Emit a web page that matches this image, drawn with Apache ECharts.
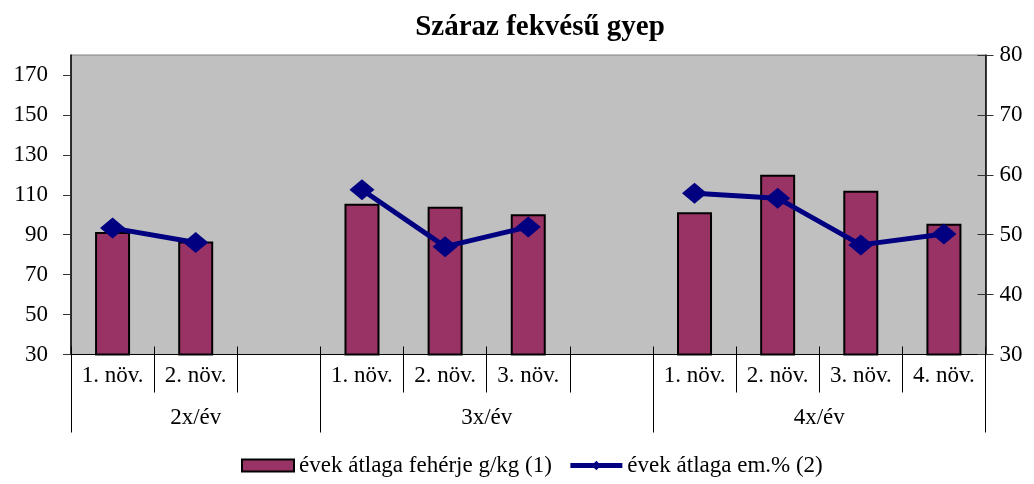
<!DOCTYPE html>
<html>
<head>
<meta charset="utf-8">
<script src="https://cdn.jsdelivr.net/npm/echarts@6.0.0/dist/echarts.min.js"></script>
<style>
html,body{margin:0;padding:0;background:#fff;}
#chart{width:1034px;height:484px;}
</style>
</head>
<body>
<div id="chart"></div>
<script>
// ---- data ----
const titleText = 'Száraz fekvésű gyep';
const categories = ['1. növ.', '2. növ.', '', '1. növ.', '2. növ.', '3. növ.', '', '1. növ.', '2. növ.', '3. növ.', '4. növ.'];
const groups = ['2x/év', '3x/év', '4x/év'];
const groupSlots = [3, 4, 4];
const barName = 'évek átlaga fehérje g/kg (1)';
const lineName = 'évek átlaga em.% (2)';
const barValues = [91.3, 86.6, null, 105.5, 104, 100.3, null, 101.3, 120, 112, 95.5];
const lineValues = [51.1, 48.7, null, 57.5, 48.0, 51.3, null, 56.9, 56.1, 48.3, 50.1];
const leftTicks = [30, 50, 70, 90, 110, 130, 150, 170];
const rightTicks = [30, 40, 50, 60, 70, 80];

// group boundaries and centres (in slot units)
const groupBounds = [0];
const groupCenters = [];
groupSlots.forEach(function (n) {
  const start = groupBounds[groupBounds.length - 1];
  groupCenters.push(start + n / 2);
  groupBounds.push(start + n);
});
const totalSlots = groupBounds[groupBounds.length - 1];

const FONT = "'Liberation Serif', 'Times New Roman', serif";
const chart = echarts.init(document.getElementById('chart'), null, {renderer: 'canvas'});

chart.setOption({
  animation: false,
  backgroundColor: '#ffffff',
  title: {
    text: titleText,
    left: 535,
    top: 8,
    textAlign: 'center',
    textStyle: {fontFamily: FONT, fontSize: 29, fontWeight: 'bold', color: '#000'}
  },
  grid: {
    left: 71, right: 48.5, top: 55, bottom: 129.5,
    show: true, backgroundColor: '#c0c0c0', borderColor: '#808080', borderWidth: 1
  },
  legend: {
    bottom: 2,
    left: 236,
    itemGap: 16,
    itemWidth: 52,
    itemHeight: 12,
    lineStyle: {width: 5},
    textStyle: {fontFamily: FONT, fontSize: 23, color: '#000'},
    data: [{name: barName, icon: 'rect'}, {name: lineName}]
  },
  xAxis: [
    {
      type: 'category', data: categories, boundaryGap: true, position: 'bottom',
      axisLine: {show: true, lineStyle: {color: '#000', width: 1}},
      axisTick: {show: true, interval: 0, inside: false, length: 38, lineStyle: {color: '#000', width: 1}},
      axisLabel: {interval: 0, margin: 10, fontFamily: FONT, fontSize: 23, color: '#000'},
      splitLine: {show: false}
    },
    {
      type: 'category', data: categories, boundaryGap: true, position: 'bottom',
      axisLine: {show: false},
      axisTick: {show: true, interval: 0, inside: true, length: 8, lineStyle: {color: '#000', width: 1}},
      axisLabel: {show: false},
      splitLine: {show: false}
    },
    {
      type: 'value', min: 0, max: totalSlots, position: 'bottom',
      axisLine: {show: false},
      axisTick: {show: true, inside: false, length: 78, customValues: groupBounds, lineStyle: {color: '#000', width: 1}},
      axisLabel: {
        show: true, margin: 52, customValues: groupCenters,
        fontFamily: FONT, fontSize: 23, color: '#000',
        formatter: function (v) {
          const i = groupCenters.indexOf(v);
          return i >= 0 ? groups[i] : '';
        }
      },
      splitLine: {show: false}
    }
  ],
  yAxis: [
    {
      type: 'value', position: 'left', min: 30, max: 180,
      axisLine: {show: true, lineStyle: {color: '#000', width: 1.5}},
      axisTick: {show: true, inside: false, length: 8, customValues: leftTicks, lineStyle: {color: '#333'}},
      axisLabel: {customValues: leftTicks, margin: 23, fontFamily: FONT, fontSize: 23, color: '#000'},
      splitLine: {show: false}
    },
    {
      type: 'value', position: 'right', min: 30, max: 80,
      axisLine: {show: true, lineStyle: {color: '#000', width: 1.5}},
      axisTick: {show: true, inside: false, length: 8, customValues: rightTicks, lineStyle: {color: '#333'}},
      axisLabel: {customValues: rightTicks, margin: 14, fontFamily: FONT, fontSize: 23, color: '#000'},
      splitLine: {show: false}
    },
    {
      type: 'value', position: 'right', min: 30, max: 80,
      axisLine: {show: false},
      axisTick: {show: true, inside: true, length: 8, customValues: rightTicks, lineStyle: {color: '#333'}},
      axisLabel: {show: false},
      splitLine: {show: false}
    }
  ],
  series: [
    {
      name: barName, type: 'bar', xAxisIndex: 0, yAxisIndex: 0,
      data: barValues, barWidth: 35,
      itemStyle: {color: '#993366', borderColor: '#000', borderWidth: 2},
      z: 2
    },
    {
      name: lineName, type: 'line', xAxisIndex: 0, yAxisIndex: 1,
      data: lineValues, connectNulls: false,
      symbol: 'diamond', symbolSize: [25, 21],
      lineStyle: {color: '#000080', width: 5},
      itemStyle: {color: '#000080'},
      z: 3
    }
  ]
});
</script>
</body>
</html>
